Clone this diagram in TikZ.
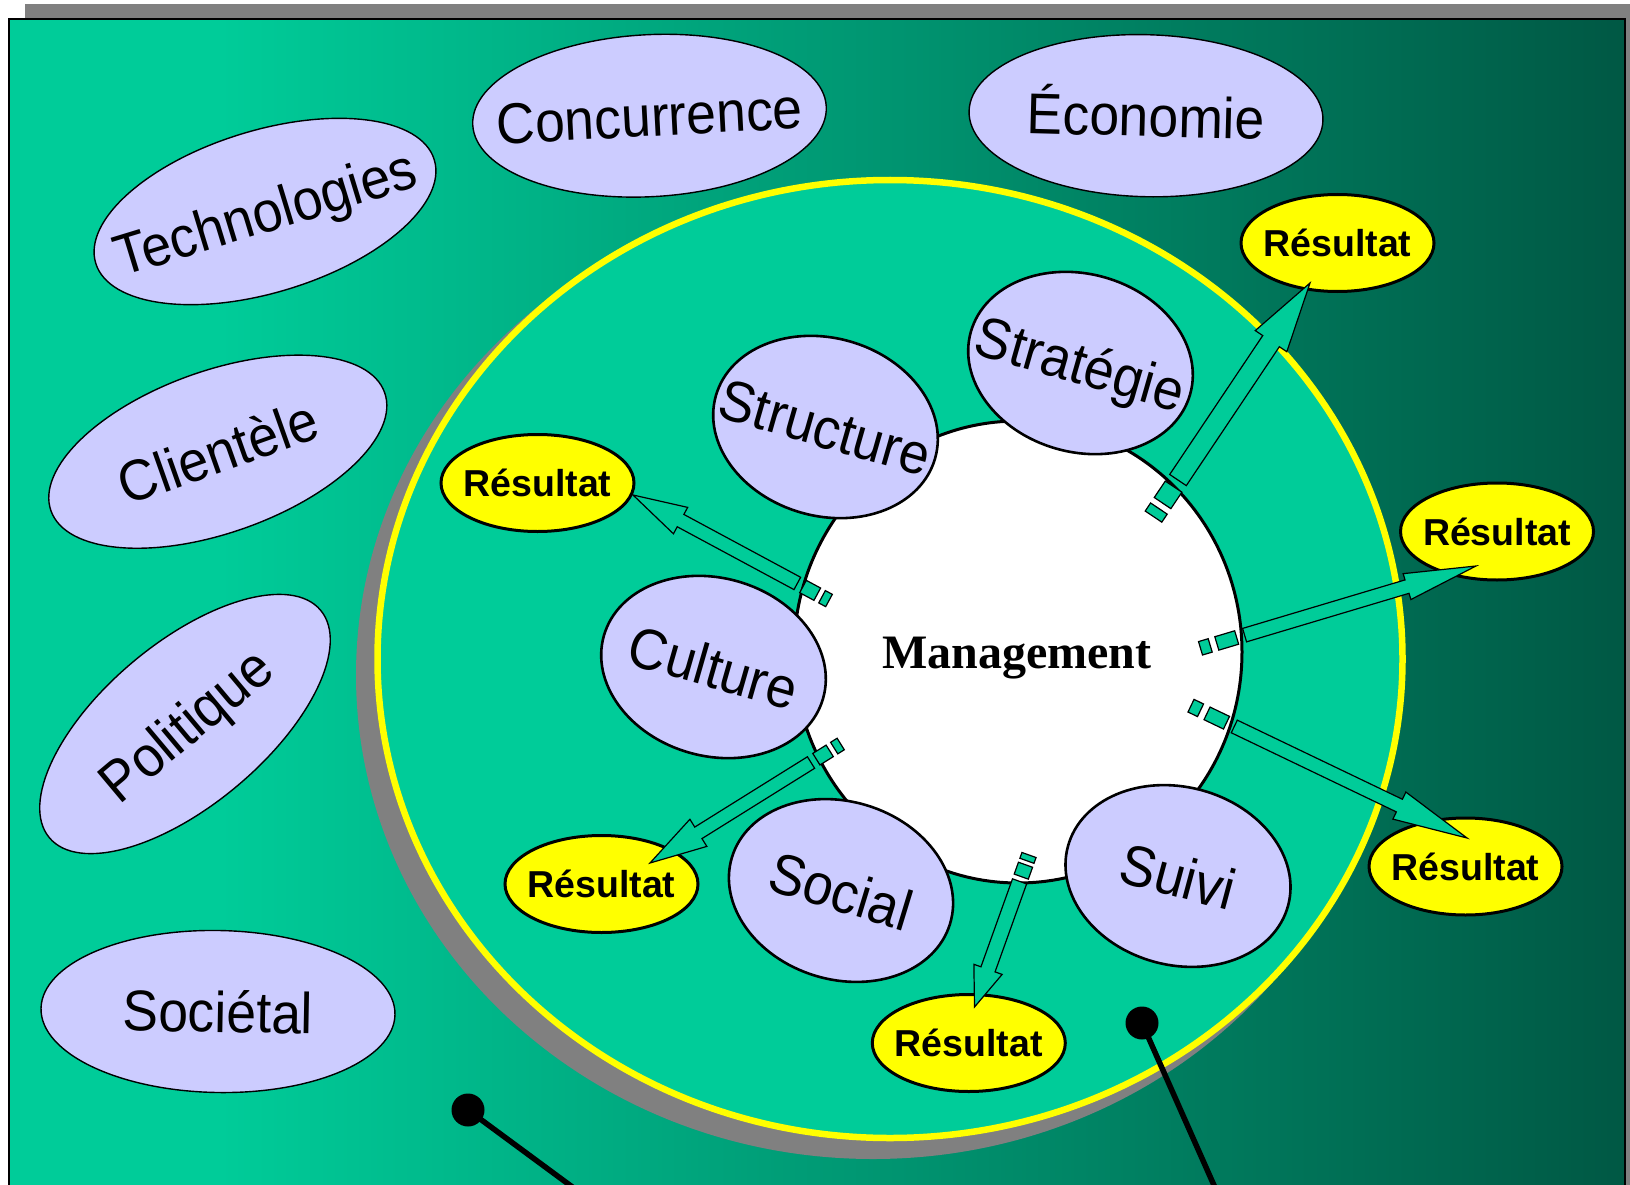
\documentclass[tikz,border=0pt]{standalone}
\usepackage{fontspec}
\setmainfont{Liberation Sans}
\newfontfamily\lblfont[FakeStretch=0.93]{Liberation Sans}
\newfontfamily\mgfont{Liberation Serif}
\usetikzlibrary{shapes.geometric,calc}
\definecolor{grn}{RGB}{0,204,153}
\definecolor{grndark}{RGB}{0,88,68}
\definecolor{lav}{RGB}{204,204,255}
\definecolor{ylw}{RGB}{255,255,0}
\definecolor{shd}{RGB}{128,128,128}
\pgfdeclarehorizontalshading{bgshade}{100bp}{color(0bp)=(grn); color(25bp)=(grn); color(31.5bp)=(grn); color(75bp)=(grndark); color(100bp)=(grndark)}
\tikzset{
  lavo/.style={ellipse, draw=black, line width=1.4, fill=lav, minimum width=354, minimum height=162, inner sep=0},
  lavi/.style={ellipse, draw=black, line width=2.6, fill=lav, minimum width=228, minimum height=178, inner sep=0},
  resell/.style={ellipse, draw=black, line width=3, fill=ylw, minimum width=193, minimum height=97, inner sep=0},
  lbl/.style={inner sep=0, font=\lblfont\fontsize{57.5}{62}\selectfont, text height=41.4pt, text depth=0pt},
  reslbl/.style={inner sep=0, font=\bfseries\fontsize{37.5}{41}\selectfont, text height=27pt, text depth=0pt},
  mglbl/.style={inner sep=0, font=\mgfont\bfseries\fontsize{48}{52}\selectfont, text height=31.7pt, text depth=0pt},
  blockarrow/.style={fill=grn, draw=black, line width=1.2, line join=miter},
  dotnode/.style={circle, fill=black, minimum size=33, inner sep=0},
  pointer/.style={draw=black, line width=5.5}
}
% #1 tail, #2 tip, #3 half shaft width, #4 half head width, #5 head length, #6 striped tail length
\newcommand\sarrow[6]{%
 \pgfmathsetmacro\sta{0.22*#6}%
 \pgfmathsetmacro\stb{0.37*#6}%
 \pgfmathsetmacro\stc{0.82*#6}%
 \filldraw[blockarrow] ($(#1)!#3pt!90:(#2)$) -- ($(#1)!\sta pt!(#2)!#3pt!90:(#2)$) -- ($(#1)!\sta pt!(#2)!#3pt!-90:(#2)$) -- ($(#1)!#3pt!-90:(#2)$) -- cycle;
 \filldraw[blockarrow] ($(#1)!\stb pt!(#2)!#3pt!90:(#2)$) -- ($(#1)!\stc pt!(#2)!#3pt!90:(#2)$) -- ($(#1)!\stc pt!(#2)!#3pt!-90:(#2)$) -- ($(#1)!\stb pt!(#2)!#3pt!-90:(#2)$) -- cycle;
 \filldraw[blockarrow] ($(#1)!#6pt!(#2)!#3pt!90:(#2)$) -- ($(#2)!#5pt!(#1)!#3pt!-90:(#1)$) -- ($(#2)!#5pt!(#1)!#4pt!-90:(#1)$) -- (#2) -- ($(#2)!#5pt!(#1)!#4pt!90:(#1)$) -- ($(#2)!#5pt!(#1)!#3pt!90:(#1)$) -- ($(#1)!#6pt!(#2)!#3pt!-90:(#2)$) -- cycle;
}
\begin{document}
\begin{tikzpicture}[x=1pt,y=-1pt]
\useasboundingbox (0,0) rectangle (1630,1185);
\clip (0,0) rectangle (1630,1185);
% frame with shadow
\fill[shd] (25,4) rectangle (1650,1210);
\shadedraw[shading=bgshade, draw=black, line width=1.5] (9,19) rectangle (1625,1210);
% big ring
\node[ellipse, fill=shd, minimum width=1034, minimum height=968, inner sep=0] (ringshadow) at (873,675) {};
\node[ellipse, fill=grn, draw=ylw, line width=6.5, minimum width=1025, minimum height=958, inner sep=0] (ring) at (890,659) {};
% outer environment ellipses
\node[lavo, rotate=17] (tech) at (265,211.5) {};
\node[lbl, rotate=17] (techt) at (tech) {Technologies};
\node[lavo, rotate=3] (conc) at (649.5,115.7) {};
\node[lbl, rotate=3] (conct) at (conc) {Concurrence};
\node[lavo, rotate=-1.5] (econ) at (1146,115.7) {};
\node[lbl, rotate=-1.5] (econt) at (econ) {Économie};
\node[lavo, rotate=19.5] (client) at (217.8,451.7) {};
\node[lbl, rotate=19.5] (clientt) at (client) {Clientèle};
\node[lavo, rotate=40] (polit) at (185,724) {};
\node[lbl, rotate=40] (politt) at (polit) {Politique};
\node[lavo, rotate=-1] (soc) at (218,1011.5) {};
\node[lbl, rotate=-1] (soct) at (soc) {Sociétal};
% management
\node[ellipse, fill=white, draw=black, line width=3, minimum width=448, minimum height=462, inner sep=0] (mgmt) at (1018,652) {};
\node[mglbl] (mgmtt) at (1017,653) {Management};
% inner ellipses
\node[lavi, rotate=-16] (struct) at (825.5,427) {};
\node[lbl, rotate=-16] (structt) at (struct) {Structure};
\node[lavi, rotate=-16] (strat) at (1080.5,363) {};
\node[lbl, rotate=-16] (stratt) at (strat) {Stratégie};
\node[lavi, rotate=-16] (cult) at (713.5,667) {};
\node[lbl, rotate=-16] (cultt) at (cult) {Culture};
\node[lavi, rotate=-17] (social) at (841,890.5) {};
\node[lbl, rotate=-17] (socialt) at (social) {Social};
\node[lavi, rotate=-15] (suivi) at (1178,876) {};
\node[lbl, rotate=-15] (suivit) at (suivi) {Suivi};
% results
\foreach \n/\p in {r1/{(1337.5,243)}, r2/{(537.5,483)}, r3/{(1497,531.5)}, r4/{(1465.5,866.5)}, r5/{(601.5,884)}, r6/{(968.8,1043)}}{
  \node[resell] (\n) at \p {};
  \node[reslbl] (\n t) at (\n) {Résultat};
}
% striped block arrows
\coordinate (a1s) at (1153.5,516.6); \coordinate (a1t) at (1310,283);
\coordinate (a2s) at (829,600.5);    \coordinate (a2t) at (633,495);
\coordinate (a3s) at (1200.5,648.3); \coordinate (a3t) at (1476,566);
\coordinate (a4s) at (1191,705.7);   \coordinate (a4t) at (1467,838);
\coordinate (a5s) at (840.7,744);    \coordinate (a5t) at (650,863);
\coordinate (a6s) at (1029,855);     \coordinate (a6t) at (974.5,1007);
\sarrow{a1s}{a1t}{10}{19}{70}{44}
\sarrow{a2s}{a2t}{7}{15}{54}{36}
\sarrow{a3s}{a3t}{7}{13.5}{72}{46}
\sarrow{a4s}{a4t}{7}{15}{75}{48}
\sarrow{a5s}{a5t}{6.8}{16}{57}{35}
\sarrow{a6s}{a6t}{7.5}{15}{40}{28}
% pointer lines
\node[dotnode] (d1) at (468,1110) {};
\node[dotnode] (d2) at (1142,1023) {};
\coordinate (l1end) at (590,1200);
\coordinate (l2end) at (1220.5,1200);
\draw[pointer] (d1.center) -- (l1end);
\draw[pointer] (d2.center) -- (l2end);
\end{tikzpicture}
\end{document}
